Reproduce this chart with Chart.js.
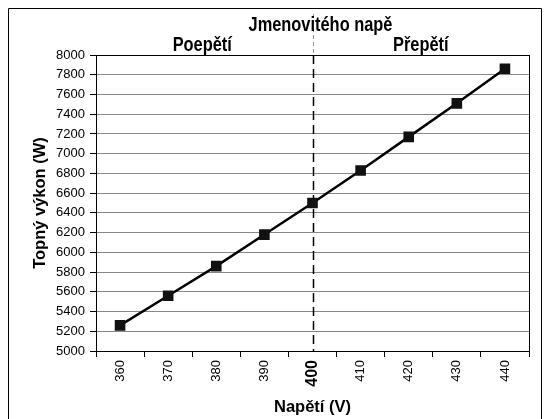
<!DOCTYPE html>
<html>
<head>
<meta charset="utf-8">
<script src="https://cdn.jsdelivr.net/npm/chart.js@4.4.0/dist/chart.umd.min.js"></script>
<style>
  html, body { margin: 0; padding: 0; background: #fff; }
  canvas { display: block; }
</style>
</head>
<body>
<canvas id="vykon" width="548" height="419"></canvas>
<script>
// napětí na ose x a naměřený topný výkon
const napeti = ['360', '370', '380', '390', '400', '410', '420', '430', '440'];
const vykon = [5260, 5560, 5860, 6180, 6500, 6830, 7170, 7510, 7860];
const jmenoviteNapeti = '400';
const nadpisy = ['Jmenovitého napě', 'Poepětí', 'Přepětí'];

Chart.defaults.font.family = '"Liberation Sans", Arial, sans-serif';
Chart.defaults.color = '#000';

// zúžený tučný text (vyšší písmo, stažené do šířky)
const uzkyText = (c, text, x, y) => {
  c.save();
  c.translate(x, y);
  c.scale(0.82, 1);
  c.fillText(text, 0, 0);
  c.restore();
};

// rámeček, přerušovaná čára u jmenovitého napětí a popisky nad grafem
const doplnky = {
  id: 'doplnky',
  beforeDraw(chart) {
    const c = chart.ctx;
    c.save();
    c.strokeStyle = '#000';
    c.lineWidth = 1;
    c.beginPath();
    c.moveTo(8.5, chart.height);
    c.lineTo(8.5, 8.5);
    c.lineTo(541.5, 8.5);
    c.lineTo(541.5, chart.height);
    c.stroke();
    c.restore();
  },
  beforeDatasetsDraw(chart) {
    const c = chart.ctx;
    const a = chart.chartArea;
    const x = Math.round(chart.scales.x.getPixelForValue(jmenoviteNapeti)) + 0.5;
    c.save();
    // okraj oblasti grafu
    c.strokeStyle = '#000';
    c.lineWidth = 1;
    c.strokeRect(a.left + 0.5, a.top + 0.5, a.right - a.left, a.bottom - a.top);
    // čára nad grafem
    c.strokeStyle = '#999';
    c.setLineDash([4, 3]);
    c.beginPath();
    c.moveTo(x, 14);
    c.lineTo(x, a.top);
    c.stroke();
    // čára v grafu
    c.strokeStyle = '#000';
    c.lineWidth = 1.5;
    c.setLineDash([9, 5]);
    c.beginPath();
    c.moveTo(x, a.top);
    c.lineTo(x, a.bottom);
    c.stroke();
    c.restore();
  },
  afterDraw(chart) {
    const c = chart.ctx;
    const a = chart.chartArea;
    const x = chart.scales.x.getPixelForValue(jmenoviteNapeti);
    c.save();
    c.fillStyle = '#000';
    c.font = 'bold 20px "Liberation Sans", Arial, sans-serif';
    c.textAlign = 'center';
    c.textBaseline = 'middle';
    uzkyText(c, nadpisy[0], x + 8, 25);
    uzkyText(c, nadpisy[1], (a.left + x) / 2 - 2, 45);
    uzkyText(c, nadpisy[2], (x + a.right) / 2, 45);
    c.restore();
  }
};

new Chart(document.getElementById('vykon'), {
  type: 'line',
  data: {
    labels: napeti,
    datasets: [{
      data: vykon,
      borderColor: '#000',
      borderWidth: 2.5,
      backgroundColor: '#111',
      pointStyle: 'rect',
      pointRadius: 7.5,
      pointBorderWidth: 0,
      tension: 0
    }]
  },
  options: {
    responsive: false,
    animation: false,
    devicePixelRatio: 1,
    layout: { padding: { top: 55, right: 19, left: 0, bottom: 0 } },
    plugins: {
      legend: { display: false },
      tooltip: { enabled: false }
    },
    scales: {
      x: {
        offset: true,
        afterFit(s) { s.height = 68; },
        grid: {
          offset: true,
          drawOnChartArea: false,
          tickLength: 6,
          tickColor: '#000'
        },
        border: { color: '#000' },
        ticks: {
          autoSkip: false,
          minRotation: 90,
          maxRotation: 90,
          padding: 3,
          color: '#000',
          font: ctx => (ctx.tick && ctx.tick.label === jmenoviteNapeti)
            ? { size: 16, weight: 'bold' }
            : { size: 13 }
        },
        title: {
          display: true,
          text: 'Napětí (V)',
          font: { size: 16.5, weight: 'bold' },
          padding: { top: 0, bottom: 2 }
        }
      },
      y: {
        min: 5000,
        max: 8000,
        afterFit(s) { s.width = 96; },
        grid: {
          color: '#888',
          tickColor: '#000',
          tickLength: 6
        },
        border: { color: '#000' },
        ticks: {
          stepSize: 200,
          padding: 5,
          color: '#000',
          font: { size: 13 },
          callback: v => String(v)
        },
        title: {
          display: true,
          text: 'Topný výkon (W)',
          font: { size: 16.5, weight: 'bold' },
          padding: { top: 31, bottom: 0 }
        }
      }
    }
  },
  plugins: [doplnky]
});
</script>
</body>
</html>
